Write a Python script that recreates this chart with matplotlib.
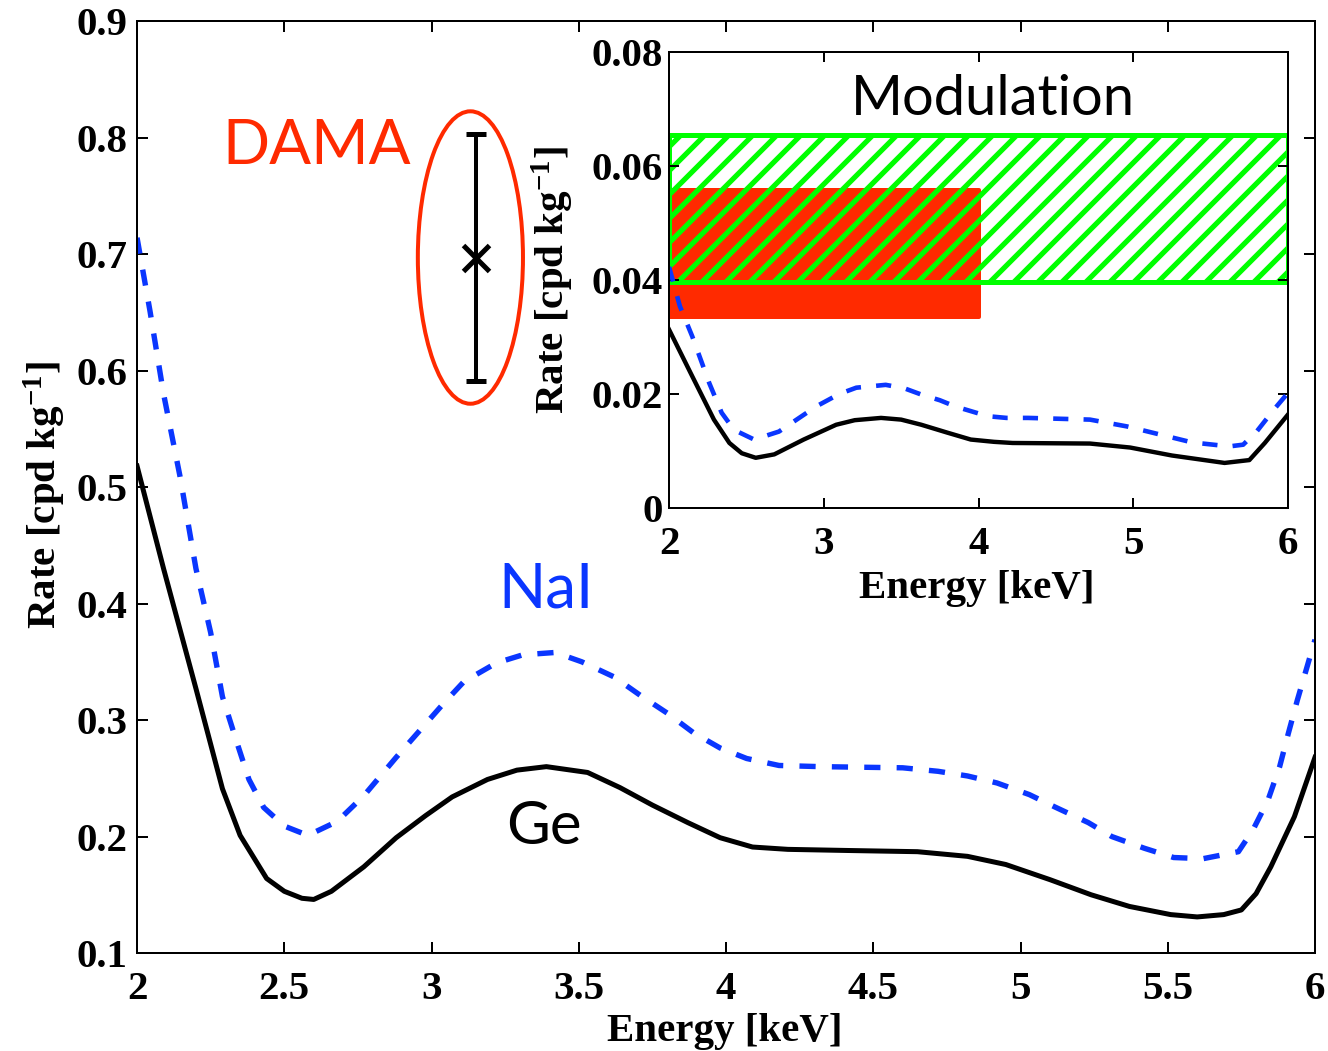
import matplotlib
matplotlib.use("Agg")
import matplotlib.pyplot as plt
from matplotlib.patches import Ellipse

# spectra: total rate
energy_ge = [2.00, 2.09, 2.20, 2.29, 2.35, 2.44, 2.50, 2.56, 2.60, 2.66, 2.77, 2.88, 2.98,
             3.07, 3.19, 3.29, 3.39, 3.53, 3.64, 3.75, 3.87, 3.98, 4.09, 4.21, 4.42, 4.65,
             4.82, 4.95, 5.10, 5.24, 5.37, 5.51, 5.60, 5.69, 5.75, 5.80, 5.85, 5.93, 6.00]
rate_ge = [0.518, 0.430, 0.327, 0.241, 0.201, 0.164, 0.153, 0.147, 0.146, 0.153, 0.174, 0.199, 0.218,
           0.234, 0.249, 0.257, 0.260, 0.255, 0.242, 0.227, 0.212, 0.199, 0.191, 0.189, 0.188, 0.187,
           0.183, 0.176, 0.163, 0.150, 0.140, 0.133, 0.131, 0.133, 0.137, 0.151, 0.174, 0.217, 0.268]

energy_nai = [2.00, 2.044, 2.09, 2.146, 2.20, 2.25, 2.29, 2.34, 2.38, 2.43, 2.50, 2.58, 2.68,
              2.77, 2.88, 2.96, 3.04, 3.11, 3.22, 3.31, 3.42, 3.51, 3.62, 3.71, 3.80, 3.89,
              3.98, 4.07, 4.18, 4.32, 4.60, 4.72, 4.82, 4.92, 5.03, 5.12, 5.23, 5.31, 5.42,
              5.52, 5.62, 5.74, 5.79, 5.84, 5.88, 5.91, 5.94, 6.00]
rate_nai = [0.714, 0.651, 0.580, 0.509, 0.430, 0.375, 0.320, 0.280, 0.249, 0.225, 0.209, 0.201, 0.213,
            0.235, 0.268, 0.291, 0.314, 0.333, 0.349, 0.356, 0.358, 0.350, 0.337, 0.321, 0.306, 0.289,
            0.276, 0.267, 0.261, 0.260, 0.259, 0.256, 0.252, 0.246, 0.236, 0.225, 0.212, 0.200, 0.190,
            0.182, 0.181, 0.187, 0.206, 0.231, 0.260, 0.289, 0.317, 0.369]

# DAMA total rate point
dama_e = 3.15
dama_rate = 0.697
dama_err = 0.106

# spectra: modulation amplitude
mod_e_ge = [2.00, 2.15, 2.29, 2.39, 2.47, 2.56, 2.68, 2.87, 3.08, 3.20, 3.37, 3.50, 3.63, 3.80,
            3.95, 4.10, 4.22, 4.72, 4.98, 5.25, 5.59, 5.75, 5.85, 6.00]
mod_ge = [0.0313, 0.0231, 0.0155, 0.0114, 0.0096, 0.0088, 0.0094, 0.0120, 0.0146, 0.0154, 0.0158,
          0.0155, 0.0146, 0.0132, 0.0120, 0.0116, 0.0114, 0.0113, 0.0106, 0.0092, 0.0079, 0.0084,
          0.0114, 0.0164]
mod_e_nai = [2.00, 2.07, 2.15, 2.26, 2.34, 2.42, 2.55, 2.71, 2.95, 3.10, 3.21, 3.40, 3.52, 3.63,
             3.75, 3.85, 4.06, 4.18, 4.32, 4.72, 4.96, 5.17, 5.38, 5.62, 5.71, 5.80, 5.91, 6.00]
mod_nai = [0.0423, 0.0354, 0.0301, 0.0219, 0.0167, 0.0137, 0.0120, 0.0134, 0.0178, 0.0200, 0.0211,
           0.0216, 0.0210, 0.0199, 0.0189, 0.0178, 0.0161, 0.0158, 0.0158, 0.0155, 0.0143, 0.0129,
           0.0115, 0.0108, 0.0111, 0.0135, 0.0173, 0.0202]

# modulation bands (DAMA red, second band green)
red_e = [2.0, 4.0]
red_lo, red_hi = 0.0335, 0.0558
green_e = [2.0, 6.0]
green_lo, green_hi = 0.0396, 0.0654

plt.rcParams["font.family"] = ["Liberation Serif", "DejaVu Serif"]
plt.rcParams["font.weight"] = "bold"
plt.rcParams["axes.labelweight"] = "bold"
plt.rcParams["mathtext.fontset"] = "custom"
plt.rcParams["mathtext.rm"] = "Liberation Serif:bold"
plt.rcParams["mathtext.it"] = "Liberation Serif:bold"
plt.rcParams["mathtext.bf"] = "Liberation Serif:bold"
plt.rcParams["mathtext.default"] = "rm"
plt.rcParams["hatch.linewidth"] = 2.6

BLUE = "#0a36ff"
RED = "#ff2a00"
GREEN = "#00ff00"
sans = ["Lato", "DejaVu Sans"]

fig = plt.figure(figsize=(1328 / 144, 1051 / 144), dpi=144)
ax = fig.add_axes([0.1032, 0.0932, 0.8870, 0.8868])

ax.plot(energy_nai, rate_nai, color=BLUE, lw=2.7, ls=(0, (3.0, 3.0)))
ax.plot(energy_ge, rate_ge, color="black", lw=2.5)

ax.errorbar([dama_e], [dama_rate], yerr=[dama_err], fmt="x", color="black",
            ms=13, mew=2.5, elinewidth=2, capsize=5, capthick=2)
ax.add_patch(Ellipse((3.132, 0.697), 0.357, 0.251, fill=False, ec=RED, lw=2))

ax.text(2.61, 0.792, "DAMA", color=RED, fontsize=31, family=sans, weight="normal",
        ha="center", va="center")
ax.text(3.39, 0.412, "NaI", color=BLUE, fontsize=31, family=sans, weight="normal",
        ha="center", va="center")
ax.text(3.38, 0.208, "Ge", color="black", fontsize=30, family=sans, weight="normal",
        ha="center", va="center")

ax.set_xlim(2, 6)
ax.set_ylim(0.1, 0.9)
ax.set_xticks([2, 2.5, 3, 3.5, 4, 4.5, 5, 5.5, 6])
ax.set_xticklabels(["2", "2.5", "3", "3.5", "4", "4.5", "5", "5.5", "6"])
ax.set_yticks([0.1, 0.2, 0.3, 0.4, 0.5, 0.6, 0.7, 0.8, 0.9])
ax.set_yticklabels(["0.1", "0.2", "0.3", "0.4", "0.5", "0.6", "0.7", "0.8", "0.9"])
ax.tick_params(direction="in", length=5.5, width=1, top=True, right=True, labelsize=20.5)
ax.tick_params(axis="x", pad=9)
ax.tick_params(axis="y", pad=5)
for s in ax.spines.values():
    s.set_linewidth(1)
ax.set_xlabel("Energy [keV]", fontsize=20.5)
ax.set_ylabel(r"Rate [cpd kg$^{-1}$]", fontsize=20.5)
ax.xaxis.label.set_va("center")
ax.yaxis.label.set_va("center")
ax.xaxis.set_label_coords(0.499, -0.084)
ax.yaxis.set_label_coords(-0.078, 0.491)

# inset: modulation
ins = fig.add_axes([0.5038, 0.5167, 0.4661, 0.4338])
ins.set_facecolor("white")
ins.fill_between(red_e, red_lo, red_hi, color=RED, lw=2, joinstyle="round")
ins.fill_between(green_e, green_lo, green_hi, facecolor="none", edgecolor=GREEN,
                 hatch="//", lw=2.5)
ins.plot(mod_e_nai, mod_nai, color=BLUE, lw=2.3, ls=(0, (3.3, 3.3)))
ins.plot(mod_e_ge, mod_ge, color="black", lw=2.2)
ins.text(4.09, 0.0717, "Modulation", fontsize=28, family=sans, weight="normal",
         ha="center", va="center")

ins.set_xlim(2, 6)
ins.set_ylim(0, 0.08)
ins.set_xticks([2, 3, 4, 5, 6])
ins.set_xticklabels(["2", "3", "4", "5", "6"])
ins.set_yticks([0, 0.02, 0.04, 0.06, 0.08])
ins.set_yticklabels(["0", "0.02", "0.04", "0.06", "0.08"])
ins.tick_params(direction="in", length=5, width=1, top=True, right=True, labelsize=20.5)
ins.tick_params(axis="x", pad=9)
ins.tick_params(axis="y", pad=3)
for s in ins.spines.values():
    s.set_linewidth(1)
ins.set_xlabel("Energy [keV]", fontsize=20.5)
ins.set_ylabel(r"Rate [cpd kg$^{-1}$]", fontsize=20.5)
ins.xaxis.label.set_va("center")
ins.yaxis.label.set_va("center")
ins.xaxis.set_label_coords(0.4976, -0.176)
ins.yaxis.set_label_coords(-0.187, 0.5)

fig.savefig("out.png", dpi=144)
